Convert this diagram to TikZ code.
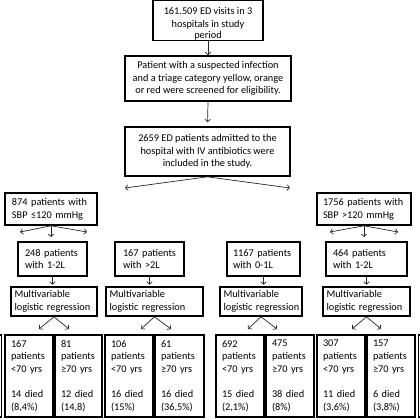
\documentclass[tikz,border=0pt]{standalone}
\usepackage{fontspec}
\setmainfont{Carlito}
\usetikzlibrary{arrows.meta}
\newcommand{\boxfont}{\fontsize{10.3}{12.7}\selectfont\hyphenpenalty10000\relax\exhyphenpenalty10000\relax}
\newcommand{\bxc}[6]{%
  \node[box,align=center,minimum width={#4-#2},minimum height={#5-#3}] (#1) at ({(#2+#4)/2},{(#3+#5)/2}) {#6};}
\newcommand{\bxl}[7][7]{%
  \pgfmathsetmacro\mytw{#5-#3-2*#1}%
  \node[box,align=left,inner xsep=#1pt,text width=\mytw pt,minimum width={#5-#3},minimum height={#6-#4}] (#2) at ({(#3+#5)/2},{(#4+#6)/2}) {#7};}
\begin{document}
\begin{tikzpicture}[x=1pt,y=-1pt,
  box/.style={draw=black,line width=1.6pt,inner ysep=0pt,font=\boxfont},
  arr/.style={draw=black!85,line width=0.7pt,-{Straight Barb[length=2.5pt,width=5.5pt]}},
  frag/.style={draw=black,line width=1.6pt}]
\useasboundingbox (0,0) rectangle (420,420);
% top chain
\bxc{b1}{153}{1}{263}{40}{\rule{0pt}{14pt}161.509 ED visits in 3\\hospitals in study\\[-1pt]period}
\bxc{b2}{125}{56}{291}{101}{Patient with a suspected infection\\and a triage category yellow, orange\\or red were screened for eligibility.}
\bxc{b3}{125}{127}{290}{176}{2659 ED patients admitted to the\\hospital with IV antibiotics were\\included in the study.}
% SBP split
\bxl[7]{sL}{5}{193}{97}{225}{\mbox{874 patients with}\\\mbox{SBP ≤120 mmHg}}
\bxl[6]{sR}{317}{193}{411}{225}{\mbox{1756 patients with}\\\mbox{SBP >120 mmHg}}
% fluid groups
\bxl[7]{c1}{18}{242}{87}{276}{\mbox{248 patients}\\\mbox{with 1-2L}}
\bxl[8]{c2}{115}{242}{184}{276}{\mbox{167 patients}\\\mbox{with >2L}}
\bxl[6]{c3}{227}{242}{300}{276}{\mbox{1167 patients}\\\mbox{with 0-1L}}
\bxl[7]{c4}{326}{242}{407}{276}{\mbox{464 patients}\\\mbox{with 1-2L}}
% regression boxes
\bxl[3.5]{m1}{11}{287}{97}{316}{\mbox{Multivariable}\\\mbox{logistic regression}}
\bxl[3.5]{m2}{106}{287}{203}{316}{\mbox{Multivariable}\\\mbox{logistic regression}}
\bxl[3.5]{m3}{220}{287}{302}{316}{\mbox{Multivariable}\\\mbox{logistic regression}}
\bxl[3.5]{m4}{323}{287}{410}{316}{\mbox{Multivariable}\\\mbox{logistic regression}}
% outcome boxes
\bxl[6]{d1}{5}{335}{53}{417}{167\\\mbox{patients}\\\mbox{<70 yrs}\\[12.7pt]\mbox{14 died}\\(8,4\%)}
\bxl[6]{d2}{55}{335}{102}{417}{81\\\mbox{patients}\\\mbox{≥70 yrs}\\[12.7pt]\mbox{12 died}\\(14,8)}
\bxl[6]{d3}{105}{335}{153}{417}{106\\\mbox{patients}\\\mbox{<70 yrs}\\[12.7pt]\mbox{16 died}\\(15\%)}
\bxl[6]{d4}{155}{335}{204}{417}{61\\\mbox{patients}\\\mbox{≥70 yrs}\\[12.7pt]\mbox{16 died}\\(36,5\%)}
\bxl[6]{d5}{216}{335}{264}{417}{692\\\mbox{patients}\\\mbox{<70 yrs}\\[12.7pt]\mbox{15 died}\\(2,1\%)}
\bxl[6]{d6}{266}{335}{314}{417}{475\\\mbox{patients}\\\mbox{≥70 yrs}\\[12.7pt]\mbox{38 died}\\(8\%)}
\bxl[6]{d7}{317}{335}{365}{417}{307\\\mbox{patients}\\\mbox{<70 yrs}\\[12.7pt]\mbox{11 died}\\(3,6\%)}
\bxl[6]{d8}{367}{335}{415}{417}{157\\\mbox{patients}\\\mbox{≥70 yrs}\\[12.7pt]\mbox{6 died}\\(3,8\%)}
% fragments of boxes cut by the frame
\draw[frag] (-40,335) rectangle (1.5,417);
\draw[frag] (418.5,335) rectangle (470,417);
% free arrow ends
\coordinate (t1) at (125,188);
\coordinate (t2) at (290,188);
\coordinate (sl1) at (20,232);
\coordinate (sl2) at (51,237);
\coordinate (sl3) at (87,232);
\coordinate (sr1) at (330,232);
\coordinate (sr2) at (364,237);
\coordinate (sr3) at (398,232);
\coordinate (e1a) at (39,329);  \coordinate (e1b) at (69,329);
\coordinate (e2a) at (141,329); \coordinate (e2b) at (171,329);
\coordinate (e3a) at (248,329); \coordinate (e3b) at (277,329);
\coordinate (e4a) at (352,329); \coordinate (e4b) at (381,329);
% connectors
\draw[arr] (b1.south) -- (b2.north);
\draw[arr,shorten >=4pt] (b2.south) -- (b3.north);
\draw[arr] (b3.south) -- (t1);
\draw[arr] (b3.south) -- (t2);
\foreach \i in {1,2,3} {
  \draw[arr] (sL.south) -- (sl\i);
  \draw[arr] (sR.south) -- (sr\i);
}
\foreach \i in {1,2,3,4} {
  \draw[arr,shorten >=1.5pt] (c\i.south) -- (c\i.south |- m\i.north);
}
\draw[arr] (m1.south) -- (e1a); \draw[arr] (m1.south) -- (e1b);
\draw[arr] (m2.south) -- (e2a); \draw[arr] (m2.south) -- (e2b);
\draw[arr] (m3.south) -- (e3a); \draw[arr] (m3.south) -- (e3b);
\draw[arr] (m4.south) -- (e4a); \draw[arr] (m4.south) -- (e4b);
\end{tikzpicture}
\end{document}
